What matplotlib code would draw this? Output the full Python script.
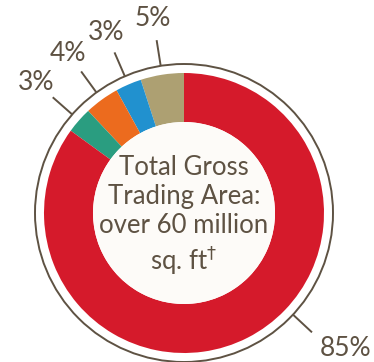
import numpy as np
import matplotlib.pyplot as plt
from matplotlib.patches import Circle

# shares of total gross trading area, counter-clockwise from the top
shares = [5, 3, 4, 3, 85]
labels = ['5%', '3%', '4%', '3%', '85%']
colors = ['#ada072', '#2191cf', '#ec6b1e', '#2a9d80', '#d51a2b']

centre_text = 'Total Gross\nTrading Area:\nover 60 million\nsq. ft$^{\\dagger}$'

ink = '#5e5243'
cx, cy = 184, 149          # centre in pixel space (y up)
r_out, r_in, r_ring = 140, 91, 149

fig = plt.figure(figsize=(3.74, 3.62), dpi=100)
ax = fig.add_axes([0, 0, 1, 1])

wedges, _ = ax.pie(shares, colors=colors, startangle=90, counterclock=True,
                   center=(cx, cy), radius=r_out,
                   wedgeprops=dict(width=r_out - r_in, linewidth=0))

ax.add_patch(Circle((cx, cy), r_in, facecolor='#fdfbf8', edgecolor='none', zorder=3))
ax.add_patch(Circle((cx, cy), r_ring, facecolor='none', edgecolor=ink, lw=1.4, zorder=4))

# leader ticks and labels
for w, lab in zip(wedges, labels):
    mid = (w.theta1 + w.theta2) / 2
    tick_a = mid
    text_a, text_r = mid, 197
    if lab == '85%':
        tick_a, text_a, text_r = -43, -40, 211
    t = np.deg2rad(tick_a)
    ax.plot([cx + r_ring * np.cos(t), cx + (r_ring + 26) * np.cos(t)],
            [cy + r_ring * np.sin(t), cy + (r_ring + 26) * np.sin(t)],
            color=ink, lw=1.4, solid_capstyle='butt', zorder=4)
    a = np.deg2rad(text_a)
    ax.text(cx + text_r * np.cos(a), cy + text_r * np.sin(a), lab,
            ha='center', va='center', fontsize=19, color=ink, family='Lato')

ax.text(cx, cy - 3, centre_text, ha='center', va='center', fontsize=18.5,
        color=ink, family='Lato', linespacing=1.2, zorder=5)

ax.set_xlim(0, 374)
ax.set_ylim(0, 362)
ax.set_aspect('auto')
ax.axis('off')

fig.savefig('out.png', dpi=100, facecolor='white')
